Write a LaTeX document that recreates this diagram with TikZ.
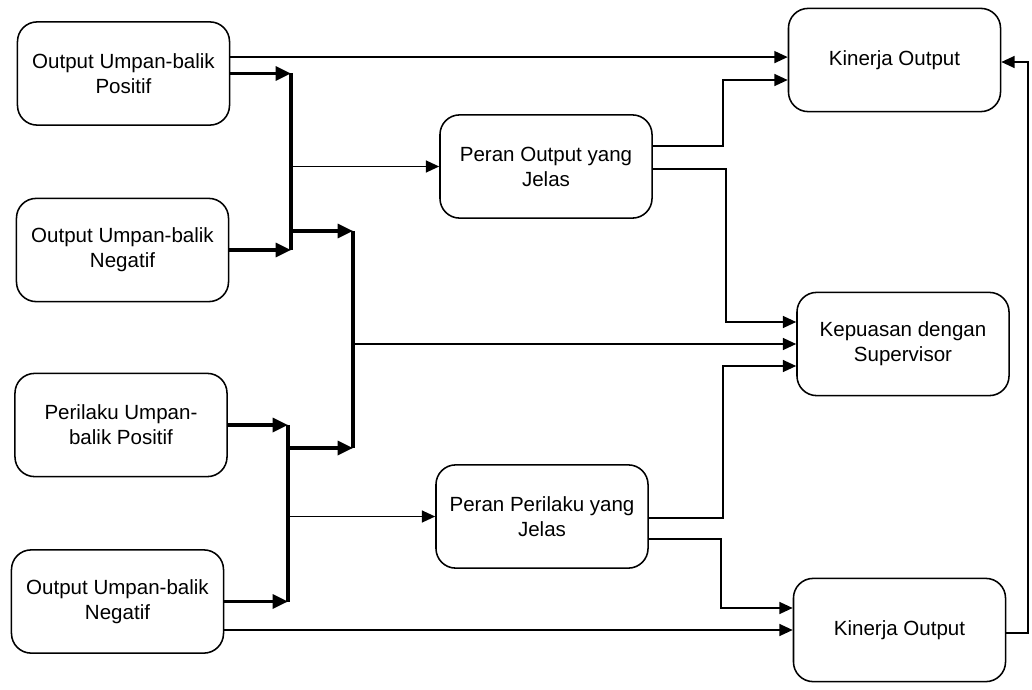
\documentclass[tikz,border=0pt]{standalone}
\usepackage{fontspec}
\setmainfont{Liberation Sans}
\usetikzlibrary{arrows.meta, positioning}

\begin{document}
\begin{tikzpicture}[
    x=0.025cm, y=-0.025cm,
    box/.style={draw, line width=1.1pt, rounded corners=14pt, align=center,
        minimum width=5.3cm, minimum height=2.58cm, inner sep=0pt,
        font=\fontsize{14.6}{17.7}\selectfont},
    link/.style={-{Triangle[length=9.5pt, width=8.5pt]}, line width=1.2pt},
    fatlink/.style={-{Triangle[length=11pt, width=10pt]}, line width=2.2pt},
    bus/.style={line width=2.2pt},
]
\useasboundingbox (0,0) rectangle (1032,690);

% --- umpan-balik (kiri) ---
\node[box] (opos) at (123.5,73.5) {Output Umpan-balik\\Positif};
\node[box] (oneg) at (122.5,250)  {Output Umpan-balik\\Negatif};
\node[box] (ppos) at (121,425)    {Perilaku Umpan-\\balik Positif};
\node[box] (pneg) at (117.5,601.5){Output Umpan-balik\\Negatif};

% --- kejelasan peran (tengah) ---
\node[box] (rout) at (546,166.5) {Peran Output yang\\Jelas};
\node[box] (rper) at (542,516.5) {Peran Perilaku yang\\Jelas};

% --- hasil (kanan) ---
\node[box] (kin1) at (894.5,60) {Kinerja Output};
\node[box] (sup)  at (903,344)  {Kepuasan dengan\\Supervisor};
\node[box] (kin2) at (899.5,630){Kinerja Output};

% titik-titik percabangan
\coordinate (bus1) at (291,0);
\coordinate (bus2) at (353,0);
\coordinate (bus3) at (288,0);
\coordinate (j12)  at (291,231);
\coordinate (j32)  at (288,448);

% --- jalur kiri ---
\draw[link] ([yshift=0.41cm]opos.east) coordinate (aout) -- (aout -| kin1.west);
\draw[fatlink] (opos.east) -- (opos.east -| bus1);
\draw[fatlink] (oneg.east) -- (oneg.east -| bus1);
\draw[bus] (opos.east -| bus1) -- (oneg.east -| bus1);
\draw[link] (rout.west -| bus1) -- (rout.west);
\draw[fatlink] (j12) -- (j12 -| bus2);

\draw[fatlink] (ppos.east) -- (ppos.east -| bus3);
\draw[fatlink] (pneg.east) -- (pneg.east -| bus3);
\draw[bus] (ppos.east -| bus3) -- (pneg.east -| bus3);
\draw[link] (rper.west -| bus3) -- (rper.west);
\draw[fatlink] (j32) -- (j32 -| bus2);

\draw[bus] (j12 -| bus2) -- (j32 -| bus2);
\draw[link] (sup.west -| bus2) -- (sup.west);
\draw[link] (kin2.west -| pneg.east) -- (kin2.west);

% --- jalur kanan ---
\draw[link] ([yshift=0.51cm]rout.east) -- ++(70,0) |- ([yshift=-0.5cm]kin1.west);
\draw[link] ([yshift=-0.06cm]rout.east) -- ++(73,0) |- ([yshift=0.55cm]sup.west);
\draw[link] ([yshift=-0.04cm]rper.east) -- ++(74,0) |- ([yshift=-0.55cm]sup.west);
\draw[link] ([yshift=-0.56cm]rper.east) -- ++(72,0) |- ([yshift=0.55cm]kin2.west);
\draw[link] ([yshift=-0.08cm]kin2.east) -- ++(22,0) |- ([yshift=-0.05cm]kin1.east);

\end{tikzpicture}
\end{document}
